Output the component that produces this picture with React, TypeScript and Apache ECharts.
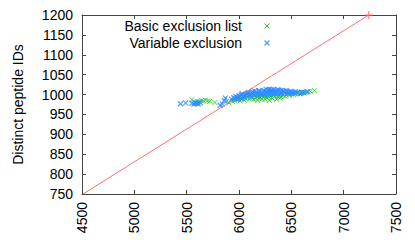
import React, { useEffect, useRef } from "react";
import * as echarts from "echarts";

const xTicks = { min: 4500, max: 7500, interval: 500 };
const yTicks = { min: 750, max: 1200, interval: 50 };

const seriesNames = ["Basic exclusion list", "Variable exclusion"];

const basicExclusion: number[][] = [
  [5550, 987], [5600, 983], [5640, 985], [5660, 984], [5680, 986], [5700, 984], [5770, 980],
  [5880, 982], [5905, 979], [5960, 985], [6000, 988], [6030, 990], [6050, 986], [6080, 992],
  [6100, 989], [6120, 994], [6140, 987], [6160, 991], [6180, 985], [6200, 993], [6220, 989],
  [6240, 996], [6250, 988], [6270, 992], [6290, 985], [6300, 997], [6320, 990], [6340, 995],
  [6360, 988], [6380, 998], [6400, 993], [6420, 1000], [6440, 995], [6460, 1002], [6480, 998],
  [6500, 1003], [6520, 1000], [6550, 1004], [6580, 1002], [6600, 1006], [6640, 1005],
  [6680, 1008], [6720, 1010], [6110, 998], [6210, 999], [6330, 1002], [6050, 995],
  [6150, 997], [6260, 994], [6390, 991], [5990, 992], [6010, 984], [6070, 989], [6090, 996],
  [6130, 991], [6170, 995], [6190, 990], [6230, 993], [6280, 996], [6310, 993], [6350, 999],
  [6370, 994], [6410, 997], [6450, 999], [6470, 1004], [6510, 1002], [6540, 1001],
  [6570, 1005], [6620, 1004], [6660, 1007], [5935, 983], [5620, 982], [5720, 983],
];

const variableExclusion: number[][] = [
  [5440, 977], [5490, 979], [5550, 978], [5570, 976], [5590, 978], [5610, 977], [5630, 979],
  [5820, 973], [5840, 976], [5860, 985], [5870, 991], [5930, 988], [5950, 992], [5970, 995],
  [5990, 993], [6000, 997], [6020, 999], [6040, 996], [6060, 1000], [6080, 1002], [6100, 998],
  [6120, 1004], [6140, 1001], [6160, 1006], [6180, 1003], [6200, 1008], [6220, 1004],
  [6240, 1010], [6250, 1002], [6260, 1007], [6280, 1011], [6290, 1004], [6300, 1009],
  [6310, 1012], [6320, 1006], [6340, 1010], [6350, 1003], [6360, 1008], [6380, 1011],
  [6400, 1006], [6420, 1009], [6440, 1004], [6460, 1007], [6480, 1003], [6500, 1006],
  [6530, 1004], [6560, 1005], [6590, 1003], [6620, 1006], [6650, 1007], [6180, 996],
  [6220, 998], [6270, 999], [6330, 1000], [6050, 992], [6120, 994], [6390, 1002],
  [6150, 1009], [6260, 1013], [6330, 1013], [5980, 988], [6020, 990], [5960, 990],
  [6010, 994], [6030, 1002], [6070, 997], [6090, 1005], [6110, 1001], [6130, 1007],
  [6170, 1000], [6190, 1010], [6210, 1002], [6230, 1007], [6270, 1004], [6290, 1013],
  [6300, 1002], [6310, 1006], [6340, 1005], [6370, 1003], [6370, 1012], [6400, 1010],
  [6410, 1003], [6430, 1008], [6450, 1010], [6470, 1005], [6490, 1008], [6510, 1005],
  [6540, 1007], [6600, 1005], [5600, 979], [5580, 980],
];

const referenceLine: number[][] = [
  [4510, 750],
  [7240, 1200],
];

const FONT = "Liberation Sans, Arial, sans-serif";
const GREEN = "#22c822";
const BLUE = "#2a8cff";
const RED = "#ff7070";
const AXIS = "#444";
const CROSS = "path://M0,0L10,10M10,0L0,10";

export default function App() {
  const ref = useRef<HTMLDivElement>(null);
  useEffect(() => {
    if (!ref.current) return;
    const chart = echarts.init(ref.current, undefined, { renderer: "svg" });
    const axisCommon = {
      axisLine: { show: true, lineStyle: { color: AXIS, width: 1 } },
      axisTick: { show: true, inside: true, length: 4, lineStyle: { color: AXIS } },
      splitLine: { show: false },
    };
    const plain = (v: number) => String(v);
    chart.setOption({
      animation: false,
      backgroundColor: "#fff",
      grid: { left: 82, right: 19, top: 15, bottom: 55 },
      xAxis: [
        {
          type: "value",
          ...xTicks,
          position: "bottom",
          ...axisCommon,
          axisLabel: { rotate: 90, margin: 8, fontSize: 14, color: "#000", fontFamily: FONT, formatter: plain },
        },
        {
          type: "value",
          ...xTicks,
          position: "top",
          ...axisCommon,
          axisLabel: { show: false },
        },
      ],
      yAxis: [
        {
          type: "value",
          ...yTicks,
          position: "left",
          ...axisCommon,
          axisLabel: { margin: 9, fontSize: 14, color: "#000", fontFamily: FONT, formatter: plain },
          name: "Distinct peptide IDs",
          nameLocation: "middle",
          nameGap: 57,
          nameTextStyle: { fontSize: 14, color: "#000", fontFamily: FONT },
        },
        {
          type: "value",
          ...yTicks,
          position: "right",
          ...axisCommon,
          axisLabel: { show: false },
        },
      ],
      series: [
        {
          name: "diagonal",
          type: "line",
          data: [
            { value: referenceLine[0], symbol: "none" },
            { value: referenceLine[1], symbol: "path://M5,0L5,10M0,5L10,5", symbolSize: 8 },
          ],
          lineStyle: { color: RED, width: 1 },
          itemStyle: { color: RED, borderColor: RED, borderWidth: 1 },
          clip: true,
          z: 1,
        },
        {
          name: seriesNames[0],
          type: "scatter",
          data: basicExclusion,
          symbol: CROSS,
          symbolSize: 5,
          itemStyle: { color: "none", borderColor: GREEN, borderWidth: 1 },
          z: 2,
        },
        {
          name: seriesNames[1],
          type: "scatter",
          data: variableExclusion,
          symbol: CROSS,
          symbolSize: 5,
          itemStyle: { color: "none", borderColor: BLUE, borderWidth: 1.3, opacity: 0.8 },
          z: 3,
        },
      ],
      graphic: [
        {
          type: "text",
          x: 242,
          y: 26,
          style: { text: seriesNames[0], fontSize: 14, fontFamily: FONT, fill: "#000", align: "right", verticalAlign: "middle" },
        },
        {
          type: "text",
          x: 242,
          y: 43,
          style: { text: seriesNames[1], fontSize: 14, fontFamily: FONT, fill: "#000", align: "right", verticalAlign: "middle" },
        },
        {
          type: "group",
          x: 267,
          y: 26,
          children: [
            { type: "line", shape: { x1: -2.5, y1: -2.5, x2: 2.5, y2: 2.5 }, style: { stroke: GREEN, lineWidth: 1 } },
            { type: "line", shape: { x1: 2.5, y1: -2.5, x2: -2.5, y2: 2.5 }, style: { stroke: GREEN, lineWidth: 1 } },
          ],
        },
        {
          type: "group",
          x: 267,
          y: 43,
          children: [
            { type: "line", shape: { x1: -2.5, y1: -2.5, x2: 2.5, y2: 2.5 }, style: { stroke: BLUE, lineWidth: 1.3, opacity: 0.8 } },
            { type: "line", shape: { x1: 2.5, y1: -2.5, x2: -2.5, y2: 2.5 }, style: { stroke: BLUE, lineWidth: 1.3, opacity: 0.8 } },
          ],
        },
      ],
    });
    return () => chart.dispose();
  }, []);
  return <div ref={ref} style={{ width: 415, height: 249, margin: -8 }} />;
}
